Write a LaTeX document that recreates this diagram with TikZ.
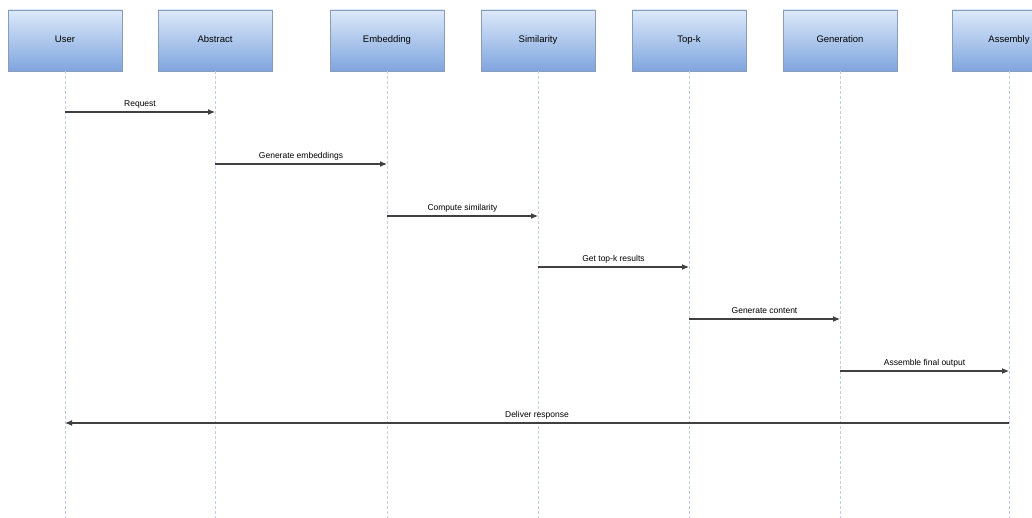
\documentclass[tikz,border=0pt]{standalone}
\usepackage{fontspec}
\setmainfont{Liberation Sans}
\usetikzlibrary{positioning,calc,arrows,arrows.meta}

\definecolor{boxtop}{HTML}{DCE9FA}
\definecolor{boxbot}{HTML}{7FA5DE}
\definecolor{boxline}{HTML}{8A9CB8}
\definecolor{lifecol}{HTML}{C0CDE8}
\definecolor{msgcol}{HTML}{404040}

\tikzset{
	actor/.style={draw=boxline, line width=0.8pt, top color=boxtop, bottom color=boxbot, minimum width=114pt, minimum height=61pt, inner sep=0pt, text height=7pt, text depth=2pt, font=\fontsize{9.5}{11}\selectfont},
	lifeline/.style={draw=lifecol, line width=0.7pt, dash pattern=on 3pt off 2pt},
	msg/.style={draw=msgcol, line width=1.1pt, -{Latex[length=7pt,width=6pt]}},
	msglabel/.style={font=\fontsize{8.5}{10}\selectfont, above=3pt, inner sep=0pt, text height=6.5pt, text depth=2pt}
}

\begin{document}
\begin{tikzpicture}[x=1pt,y=-1pt]
				\useasboundingbox (0,0) rectangle (1032,518);
				\node[actor] (user) at (65,40.5) {User};
				\node[actor] (abstract) at (215,40.5) {Abstract};
				\node[actor] (embedding) at (387,40.5) {Embedding};
				\node[actor] (similarity) at (538,40.5) {Similarity};
				\node[actor] (topk) at (689,40.5) {Top-k};
				\node[actor] (generation) at (840,40.5) {Generation};
				\node[actor] (assembly) at (1009,40.5) {Assembly};
				\coordinate (userend) at (65,518);
				\coordinate (abstractend) at (215,518);
				\coordinate (embeddingend) at (387,518);
				\coordinate (similarityend) at (538,518);
				\coordinate (topkend) at (689,518);
				\coordinate (generationend) at (840,518);
				\coordinate (assemblyend) at (1009,518);
				\draw[lifeline] (user.south) -- (userend);
				\draw[lifeline] (abstract.south) -- (abstractend);
				\draw[lifeline] (embedding.south) -- (embeddingend);
				\draw[lifeline] (similarity.south) -- (similarityend);
				\draw[lifeline] (topk.south) -- (topkend);
				\draw[lifeline] (generation.south) -- (generationend);
				\draw[lifeline] (assembly.south) -- (assemblyend);
				\draw[msg] (user |- 0,112) -- (abstract |- 0,112) node[msglabel, midway] {Request};
				\draw[msg] (abstract |- 0,164) -- (embedding |- 0,164) node[msglabel, midway] {Generate embeddings};
				\draw[msg] (embedding |- 0,216) -- (similarity |- 0,216) node[msglabel, midway] {Compute similarity};
				\draw[msg] (similarity |- 0,267) -- (topk |- 0,267) node[msglabel, midway] {Get top-k results};
				\draw[msg] (topk |- 0,319) -- (generation |- 0,319) node[msglabel, midway] {Generate content};
				\draw[msg] (generation |- 0,371) -- (assembly |- 0,371) node[msglabel, midway] {Assemble final output};
				\draw[msg] (assembly |- 0,423) -- (user |- 0,423) node[msglabel, midway] {Deliver response};
\end{tikzpicture}
\end{document}
